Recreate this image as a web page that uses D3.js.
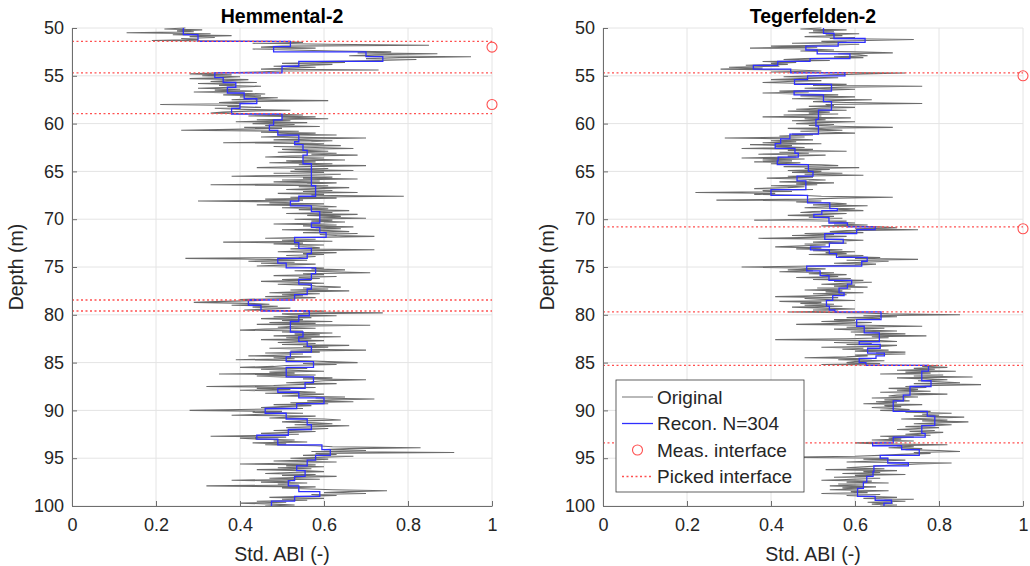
<!DOCTYPE html>
<html>
<head>
<meta charset="utf-8">
<script src="https://cdn.jsdelivr.net/npm/d3@7"></script>
<style>
  body { margin: 0; background: #fff; }
  svg { font-family: "Liberation Sans", Arial, sans-serif; }
</style>
</head>
<body>
<svg id="chart" width="1030" height="566"></svg>
<script>
// Axis ticks
const depthTicks = [50, 55, 60, 65, 70, 75, 80, 85, 90, 95, 100];
const abiTicks = [0, 0.2, 0.4, 0.6, 0.8, 1];
const abiTickLabels = ["0", "0.2", "0.4", "0.6", "0.8", "1"];
const legendLabels = ["Original", "Recon. N=304", "Meas. interface", "Picked interface"];

// Original log, sampled every 0.1 m from 50 m (Std. ABI x 100)
const sampleTop = 50, sampleStep = 0.1;

const hemOriginal = [
  27, 22, 31, 25, 29, 13, 33, 24, 38, 28,
  34, 26, 30, 19, 47, 55, 43, 61, 85, 50,
  45, 58, 43, 52, 63, 76, 68, 87, 72, 66,
  95, 78, 70, 82, 73, 58, 65, 50, 62, 57,
  48, 58, 52, 45, 73, 50, 44, 34, 28, 38,
  31, 40, 35, 28, 42, 37, 33, 44, 30, 39,
  35, 45, 38, 30, 40, 34, 43, 29, 38, 46,
  36, 45, 40, 49, 43, 38, 61, 41, 35, 44,
  21, 40, 37, 45, 34, 39, 52, 42, 36, 33,
  47, 55, 42, 58, 50, 61, 44, 52, 39, 56,
  43, 53, 46, 59, 41, 50, 38, 26, 54, 45,
  58, 49, 63, 52, 45, 70, 56, 48, 62, 57,
  36, 60, 53, 64, 48, 58, 67, 50, 55, 61,
  49, 63, 57, 68, 52, 46, 60, 55, 65, 51,
  58, 47, 62, 54, 70, 56, 44, 61, 53, 67,
  52, 60, 48, 64, 57, 38, 62, 55, 68, 50,
  59, 48, 63, 56, 33, 61, 54, 66, 58, 51,
  62, 55, 68, 49, 60, 57, 79, 52, 63, 46,
  55, 30, 52, 47, 60, 44, 58, 63, 50, 61,
  54, 66, 58, 62, 51, 68, 56, 64, 59, 70,
  53, 62, 57, 65, 60, 48, 63, 55, 67, 58,
  64, 50, 61, 66, 55, 68, 59, 63, 72, 57,
  46, 58, 50, 62, 36, 55, 48, 60, 53, 57,
  59, 52, 72, 56, 49, 63, 55, 60, 51, 58,
  54, 27, 47, 56, 42, 53, 45, 58, 50, 44,
  52, 60, 57, 65, 53, 62, 71, 55, 60, 48,
  63, 54, 59, 50, 57, 45, 53, 60, 49, 56,
  58, 64, 55, 61, 52, 66, 54, 47, 59, 50,
  55, 46, 58, 51, 40, 45, 36, 29, 42, 47,
  38, 49, 43, 52, 46, 41, 60, 55, 74, 50,
  52, 63, 48, 57, 45, 55, 50, 62, 47, 58,
  44, 71, 53, 49, 58, 46, 40, 55, 50, 62,
  53, 59, 48, 64, 51, 57, 45, 60, 54, 49,
  58, 50, 66, 55, 61, 47, 56, 70, 52, 59,
  46, 55, 50, 42, 57, 48, 53, 39, 56, 61,
  68, 55, 63, 51, 48, 40, 56, 45, 52, 60,
  47, 53, 35, 58, 44, 50, 62, 55, 70, 60,
  57, 51, 63, 54, 48, 32, 58, 44, 52, 40,
  53, 58, 46, 60, 55, 50, 65, 58, 72, 62,
  56, 67, 52, 61, 48, 57, 50, 45, 55, 40,
  28, 50, 43, 55, 46, 38, 58, 52, 47, 60,
  64, 55, 50, 58, 62, 53, 66, 59, 51, 61,
  56, 48, 58, 52, 45, 54, 47, 33, 51, 40,
  44, 53, 48, 56, 43, 51, 46, 58, 62, 83,
  66, 60, 70, 57, 91, 58, 63, 55, 67, 60,
  52, 61, 56, 48, 63, 55, 40, 58, 51, 60,
  49, 57, 44, 55, 60, 52, 46, 58, 50, 63,
  55, 47, 59, 38, 52, 45, 56, 49, 54, 32,
  58, 50, 55, 62, 75, 66, 60, 70, 57, 63,
  54, 47, 60, 50, 56, 44, 51, 40, 48, 53,
  46
];

// Reconstruction: top depth of each step and its value (x 100)
const hemReconTop = [50.0, 50.7, 51.4, 51.95, 52.5, 53.0, 53.5, 54.0, 54.7, 55.2, 55.7, 56.2, 56.8, 57.4, 57.9, 58.4,
  59.0, 59.6, 60.15, 60.7, 61.2, 61.9, 62.2, 62.8, 63.3, 64.2, 66.5, 67.6, 68.1, 68.6, 69.2, 70.4, 70.85, 71.4, 71.9,
  72.45, 73.05, 73.6, 74.1, 74.6, 75.1, 75.7, 76.3, 76.8, 77.3, 77.9, 78.45, 79.0, 79.6, 80.1, 80.7, 81.8, 82.3, 82.8,
  83.3, 83.9, 84.4, 84.9, 85.5, 86.5, 87.1, 87.7, 88.1, 88.7, 89.3, 89.8, 90.3, 90.9, 91.5, 92.0, 92.6, 93.0, 93.6,
  94.1, 94.7, 95.2, 95.8, 96.3, 96.9, 97.35, 97.9, 98.5, 99.0, 99.5];
const hemReconValue = [26.5, 30, 52, 48, 70, 74, 54, 50, 34, 36, 39, 37, 41, 44, 40, 38,
  50, 48, 47, 49, 54, 53, 55, 56, 55, 57, 58, 54, 52, 57, 59, 57, 59, 60.5, 53,
  54, 57, 56, 49, 51, 58, 57, 54, 57, 56, 53, 42, 45, 56.5, 54, 52, 55, 54, 56,
  57, 52, 51, 57.5, 51, 57.5, 55.5, 49, 54, 60, 53.5, 46, 51, 56, 57, 51.5, 44, 49, 59.5,
  61.5, 58, 56, 53.5, 55.5, 53, 51.5, 54, 59, 53, 47.5];
const hemPicked = [51.4, 54.7, 58.95, 78.45, 79.6];
const hemMeasured = [52.0, 58.0];

const tegOriginal = [
  52, 47, 58, 50, 55, 49, 61, 53, 57, 48,
  60, 54, 74, 63, 52, 58, 45, 61, 53, 40,
  51, 35, 49, 55, 47, 60, 69, 56, 61, 63,
  55, 62, 48, 43, 54, 38, 46, 40, 44, 34,
  42, 30, 38, 28, 46, 52, 40, 72, 62, 54,
  50, 43, 56, 47, 40, 52, 44, 38, 49, 58,
  50, 76, 57, 48, 60, 53, 42, 49, 38, 46,
  56, 47, 60, 53, 45, 64, 55, 50, 58, 76,
  53, 55, 49, 60, 52, 46, 58, 44, 54, 49,
  56, 43, 52, 38, 59, 48, 53, 45, 60, 51,
  46, 55, 49, 58, 69, 44, 52, 57, 47, 54,
  60, 45, 50, 42, 48, 29, 44, 50, 40, 46,
  38, 52, 35, 45, 41, 48, 33, 50, 44, 58,
  42, 49, 37, 53, 44, 46, 33, 48, 38, 45,
  36, 47, 40, 52, 56, 43, 61, 48, 54, 44,
  52, 45, 57, 48, 62, 44, 50, 39, 47, 53,
  49, 42, 55, 46, 51, 40, 48, 44, 36, 50,
  38, 45, 22, 41, 36, 47, 52, 69, 56, 49,
  27, 52, 46, 55, 58, 50, 63, 53, 48, 60,
  56, 62, 50, 47, 58, 53, 44, 55, 49, 57,
  50, 36, 58, 54, 60, 55, 63, 52, 66, 70,
  60, 75, 58, 54, 62, 48, 55, 45, 58, 50,
  37, 56, 62, 55, 50, 58, 48, 53, 46, 41,
  52, 46, 57, 50, 60, 53, 58, 49, 62, 56,
  66, 60, 75, 58, 68, 62, 55, 65, 60, 50,
  33, 47, 53, 44, 50, 42, 55, 49, 58, 52,
  56, 46, 59, 50, 62, 55, 64, 58, 52, 60,
  55, 63, 51, 59, 48, 57, 53, 62, 50, 58,
  50, 41, 56, 48, 53, 60, 42, 52, 47, 55,
  48, 57, 45, 53, 60, 50, 56, 44, 62, 68,
  85, 62, 70, 58, 66, 55, 60, 52, 64, 57,
  46, 63, 76, 58, 67, 55, 62, 70, 59, 65,
  72, 60, 77, 64, 68, 58, 41, 66, 70, 55,
  64, 58, 70, 66, 52, 62, 57, 68, 60, 72,
  65, 72, 60, 63, 58, 48, 64, 56, 67, 60,
  58, 66, 52, 80, 76, 82, 74, 79, 70, 84,
  72, 78, 66, 81, 74, 88, 70, 77, 82, 75,
  80, 85, 74, 90, 79, 72, 77, 68, 75, 70,
  78, 66, 74, 82, 70, 68, 75, 64, 72, 67,
  73, 65, 70, 62, 76, 67, 71, 64, 69, 73,
  66, 78, 72, 83, 76, 80, 74, 86, 79, 71,
  82, 76, 87, 80, 74, 83, 78, 72, 80, 75,
  70, 79, 73, 81, 76, 72, 78, 66, 74, 68,
  71, 64, 74, 67, 60, 66, 82, 70, 74, 68,
  76, 72, 80, 85, 74, 78, 71, 66, 60, 41,
  68, 62, 72, 64, 58, 83, 75, 70, 66, 62,
  58, 67, 53, 70, 62, 66, 57, 72, 60, 64,
  55, 66, 60, 52, 64, 58, 68, 56, 62, 54,
  65, 57, 61, 54, 68, 59, 63, 52, 66, 58,
  64, 70, 62, 74, 67, 72, 63, 69, 64, 70,
  66
];

const tegReconTop = [50.0, 50.56, 51.1, 51.5, 51.9, 52.3, 52.7, 53.2, 53.5, 53.9, 54.3, 54.7, 55.0, 55.4, 55.9, 56.6,
  57.0, 57.7, 58.6, 59.55, 60.25, 61.1, 61.6, 62.1, 62.6, 63.1, 63.5, 63.9, 64.3, 65.0, 65.5, 66.0, 66.9, 67.5, 68.3,
  68.9, 69.1, 69.5, 69.8, 70.4, 70.8, 71.1, 71.5, 72.1, 72.5, 72.9, 73.2, 73.6, 74.0, 74.4, 74.9, 75.4, 75.9, 76.4,
  76.8, 77.2, 77.7, 78.0, 78.5, 79.1, 79.5, 79.7, 80.5, 81.2, 81.9, 82.8, 83.1, 83.5, 84.0, 84.3, 84.55, 85.0, 85.3,
  85.9, 86.9, 87.5, 88.4, 89.0, 90.1, 90.6, 91.6, 92.4, 92.8, 93.4, 93.7, 94.1, 94.7, 95.0, 95.5, 95.8, 96.4, 96.9,
  97.5, 98.15, 99.0, 99.4, 99.7];
const tegReconValue = [52.5, 55, 62.4, 56, 48.3, 51, 58.8, 49.3, 41.6, 35.8, 44.7, 57.6, 48.7, 45.6, 54.4, 45.5,
  52.5, 54.4, 51.3, 50.7, 51.3, 44.5, 42.3, 41, 45.7, 46.5, 41.7, 41.5, 48.9, 50, 46.2, 48.3, 40, 48.7, 54,
  55.8, 52.1, 50.2, 53.8, 58.2, 64.8, 60.4, 52.8, 57.2, 53.9, 49.4, 53.9, 55.6, 62.9, 61.6, 48.5, 51.7, 53.8, 59.2,
  58.2, 56.2, 57.4, 54.7, 53.2, 53.9, 55.2, 66.2, 60.4, 62.2, 65.8, 61, 66, 63, 67, 65, 61, 62.6, 77.5,
  75.9, 78.1, 73.1, 71.5, 69.1, 77.2, 79, 75.9, 76.7, 69.1, 64.2, 71.1, 75.3, 66, 67.8, 72.7, 64.5, 64.3, 62.8,
  62, 60.6, 64.8, 68.7, 66.9];
const tegPicked = [54.7, 70.8, 79.7, 85.3, 93.4];
const tegMeasured = [55.0, 71.0];

// Styles
const greyColour = "#6c6c6c", blueColour = "#2f2fff", redColour = "#ff5050";
const axisColour = "#6e6e6e", textColour = "#262626", gridColour = "#e4e4e4";

const svg = d3.select("#chart");
const plotTop = 28, plotBottom = 506, plotWidth = 420;

function drawPanel(left, title, original, reconTop, reconValue, picked, measured) {
    const x = d3.scaleLinear().domain([0, 1]).range([left, left + plotWidth]);
    const y = d3.scaleLinear().domain([50, 100]).range([plotTop, plotBottom]);
    const g = svg.append("g");

    // Grid
    g.selectAll(".gx").data(abiTicks).join("line")
        .attr("x1", d => x(d)).attr("x2", d => x(d))
        .attr("y1", plotTop).attr("y2", plotBottom)
        .attr("stroke", gridColour);
    g.selectAll(".gy").data(depthTicks).join("line")
        .attr("x1", x(0)).attr("x2", x(1))
        .attr("y1", d => y(d)).attr("y2", d => y(d))
        .attr("stroke", gridColour);

    // Original log
    const line = d3.line().x(d => x(d.v)).y(d => y(d.depth));
    const samples = original.map((v, i) => ({ depth: sampleTop + i * sampleStep, v: v / 100 }));
    g.append("path").attr("d", line(samples))
        .attr("fill", "none").attr("stroke", greyColour).attr("stroke-width", 1.1);

    // Reconstruction as depth steps
    const steps = [];
    reconTop.forEach((d, i) => {
        const bottom = i < reconTop.length - 1 ? reconTop[i + 1] : 100;
        steps.push({ depth: d, v: reconValue[i] / 100 }, { depth: bottom, v: reconValue[i] / 100 });
    });
    g.append("path").attr("d", line(steps))
        .attr("fill", "none").attr("stroke", blueColour).attr("stroke-width", 1.3);

    // Picked interfaces
    g.selectAll(".pick").data(picked).join("line")
        .attr("x1", x(0)).attr("x2", x(1))
        .attr("y1", d => y(d)).attr("y2", d => y(d))
        .attr("stroke", redColour).attr("stroke-width", 1.3).attr("stroke-dasharray", "2,2.5");

    // Measured interfaces
    g.selectAll(".meas").data(measured).join("circle")
        .attr("cx", x(1)).attr("cy", d => y(d)).attr("r", 5)
        .attr("fill", "none").attr("stroke", redColour).attr("stroke-width", 1.1);

    // Axes
    const yAxis = g.append("g").attr("transform", `translate(${x(0)},0)`)
        .call(d3.axisLeft(y).tickValues(depthTicks).tickSizeInner(-5).tickSizeOuter(0).tickPadding(8));
    const xAxis = g.append("g").attr("transform", `translate(0,${plotBottom})`)
        .call(d3.axisBottom(x).tickValues(abiTicks).tickFormat((d, i) => abiTickLabels[i])
            .tickSizeInner(-5).tickSizeOuter(0).tickPadding(12));
    [xAxis, yAxis].forEach(a => {
        a.attr("font-family", null).attr("font-size", 18);
        a.select(".domain").attr("stroke", axisColour);
        a.selectAll(".tick line").attr("stroke", axisColour);
        a.selectAll(".tick text").attr("fill", textColour);
    });

    // Labels
    g.append("text").attr("x", x(0.5)).attr("y", 23)
        .attr("text-anchor", "middle").attr("font-size", 19.5).attr("font-weight", "bold")
        .attr("fill", "#000").text(title);
    g.append("text").attr("x", x(0.5)).attr("y", 561)
        .attr("text-anchor", "middle").attr("font-size", 19.5).attr("fill", textColour)
        .text("Std. ABI (-)");
    g.append("text").attr("transform", `translate(${x(0) - 49},${(plotTop + plotBottom) / 2}) rotate(-90)`)
        .attr("text-anchor", "middle").attr("font-size", 19.5).attr("fill", textColour)
        .text("Depth (m)");
    return { x, y, g };
}

drawPanel(72, "Hemmental-2", hemOriginal, hemReconTop, hemReconValue, hemPicked, hemMeasured);
drawPanel(603, "Tegerfelden-2", tegOriginal, tegReconTop, tegReconValue, tegPicked, tegMeasured);

// Legend in the right panel
const legend = svg.append("g").attr("transform", "translate(616,380)");
legend.append("rect").attr("width", 188).attr("height", 112)
    .attr("fill", "#fff").attr("stroke", "#3a3a3a").attr("stroke-width", 0.8);
const rowY = d => 17 + d * 26.5;
legendLabels.forEach((label, i) => {
    const row = legend.append("g").attr("transform", `translate(0,${rowY(i)})`);
    if (i === 0) row.append("line").attr("x1", 6).attr("x2", 37).attr("stroke", "#8a8a8a").attr("stroke-width", 1.2);
    if (i === 1) row.append("line").attr("x1", 6).attr("x2", 37).attr("stroke", blueColour).attr("stroke-width", 1.3);
    if (i === 2) row.append("circle").attr("cx", 21.5).attr("r", 5).attr("fill", "none").attr("stroke", redColour).attr("stroke-width", 1.1);
    if (i === 3) row.append("line").attr("x1", 6).attr("x2", 37).attr("stroke", redColour)
        .attr("stroke-width", 1.3).attr("stroke-dasharray", "2,2.5");
    row.append("text").attr("x", 41).attr("dy", "0.35em")
        .attr("font-size", 19).attr("fill", textColour).text(label);
});
</script>
</body>
</html>
